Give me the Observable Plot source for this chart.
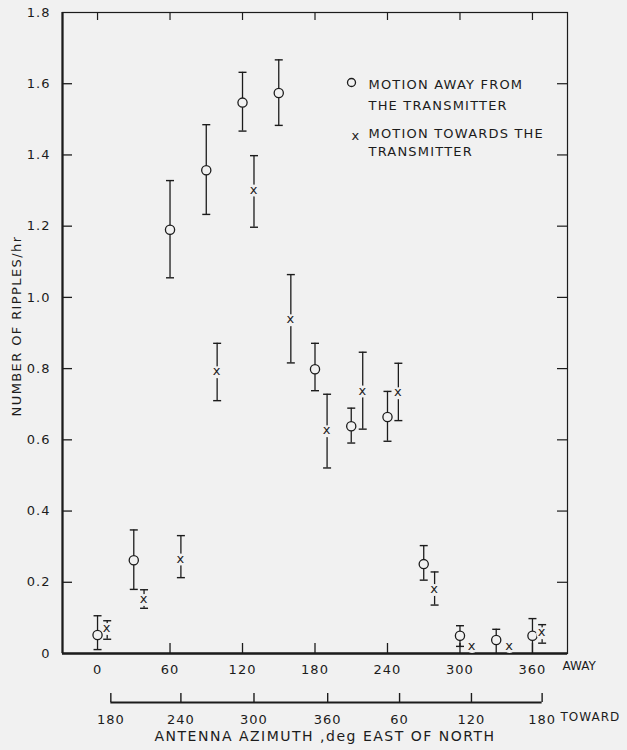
<!DOCTYPE html>
<html>
<head>
<meta charset="utf-8">
<script src="https://cdn.jsdelivr.net/npm/d3@7"></script>
<script src="https://cdn.jsdelivr.net/npm/@observablehq/plot@0.6"></script>
<style>
  html, body { margin: 0; padding: 0; background: #f1f1f1; }
</style>
</head>
<body>
<div id="chart"></div>
<script>
// ---- data ----
const awayAz  = [0, 30, 60, 90, 120, 150, 180, 210, 240, 270, 300, 330, 360];
const awayVal = [0.052, 0.262, 1.19, 1.357, 1.547, 1.574, 0.798, 0.638, 0.664, 0.251, 0.05, 0.038, 0.05];
const awayHi  = [0.106, 0.347, 1.328, 1.485, 1.632, 1.667, 0.871, 0.689, 0.736, 0.303, 0.078, 0.068, 0.098];
const awayLo  = [0.011, 0.18, 1.055, 1.233, 1.467, 1.483, 0.738, 0.591, 0.596, 0.206, 0.02, 0, 0];

const towardAz  = [8, 38.5, 69, 99, 129.5, 160, 190, 219.5, 249, 279, 310, 341, 368];
const towardVal = [0.069, 0.15, 0.264, 0.79, 1.3, 0.936, 0.624, 0.736, 0.731, 0.178, 0.018, 0.018, 0.057];
const towardHi  = [0.092, 0.179, 0.331, 0.871, 1.398, 1.064, 0.728, 0.846, 0.815, 0.229, null, null, 0.081];
const towardLo  = [0.04, 0.127, 0.213, 0.71, 1.197, 0.816, 0.521, 0.63, 0.654, 0.136, null, null, 0.029];

const yTicks = [0, 0.2, 0.4, 0.6, 0.8, 1.0, 1.2, 1.4, 1.6, 1.8];
const awayTicks = [0, 60, 120, 180, 240, 300, 360];
const towardTickPos = [11, 69, 129.5, 190.5, 250, 309.5, 368];
const towardTickLabels = ["180", "240", "300", "360", "60", "120", "180"];

const legendAway = "MOTION AWAY FROM\nTHE TRANSMITTER";
const legendToward = "MOTION TOWARDS THE\nTRANSMITTER";
const yTitle = "NUMBER OF RIPPLES/hr";
const xTitle = "ANTENNA AZIMUTH ,deg EAST OF NORTH";

// ---- layout ----
const W = 627, H = 750, mT = 12, mR = 60, mB = 97, mL = 62;
const fw = W - mL - mR, fh = H - mT - mB;
const bg = "#f1f1f1", ink = "#1c1c1c";
const xDomain = [-29, 389];
const yDomain = [0, 1.8];

const away = awayAz.map((x, i) => ({x, y: awayVal[i], lo: awayLo[i], hi: awayHi[i]}));
const toward = towardAz.map((x, i) => ({x, y: towardVal[i], lo: towardLo[i], hi: towardHi[i]}));
const towardErr = toward.filter(d => d.hi != null);
const caps = [...away, ...towardErr].flatMap(d => [{x: d.x, y: d.lo}, {x: d.x, y: d.hi}]).filter(d => d.y > 0);
const towardLabelOf = new Map(towardTickPos.map((p, i) => [p, towardTickLabels[i]]));
const innerL = yTicks.slice(1, -1);
const innerR = yTicks.slice(1, -1);
const bottomTicks = awayTicks.slice(1);

const capSymbol = { draw(ctx) { ctx.moveTo(-4, 0); ctx.lineTo(4, 0); } };

const chart = Plot.plot({
  width: W, height: H,
  marginTop: mT, marginRight: mR, marginBottom: mB, marginLeft: mL,
  style: {background: bg, color: ink, fontFamily: "DejaVu Sans", fontSize: "13px", letterSpacing: "1px"},
  x: {domain: xDomain},
  y: {domain: yDomain},
  marks: [
    // frame
    Plot.frame({stroke: ink, strokeWidth: 1.2}),
    Plot.ruleX([xDomain[0]], {stroke: ink, strokeWidth: 2.2}),
    Plot.ruleY([0], {stroke: ink, strokeWidth: 2.6}),
    // tick labels
    Plot.axisY(yTicks, {anchor: "left", tickSize: 0, tickPadding: 12, label: null,
      tickFormat: d => d === 0 ? "0" : d.toFixed(1), fontSize: 13}),
    Plot.axisX(awayTicks, {anchor: "bottom", tickSize: 0, tickPadding: 11, label: null, fontSize: 13}),
    Plot.text(["AWAY"], {frameAnchor: "bottom-right", dx: -5, dy: 16, textAnchor: "start", fontSize: 12, fill: ink}),
    // second (toward) axis
    Plot.ruleY([0], {x1: towardTickPos[0], x2: towardTickPos[towardTickPos.length - 1], dy: 49, stroke: ink, strokeWidth: 1.8}),
    Plot.ruleX(towardTickPos, {x: d => d, insetTop: fh - 9, dy: 49, stroke: ink, strokeWidth: 1.4}),
    Plot.axisX(towardTickPos, {anchor: "bottom", tickSize: 0, tickPadding: 12, dy: 49, label: null,
      tickFormat: d => towardLabelOf.get(d), fontSize: 13}),
    Plot.text(["TOWARD"], {frameAnchor: "bottom-right", dx: -7, dy: 67, textAnchor: "start", fontSize: 12, fill: ink}),
    Plot.text([xTitle], {frameAnchor: "bottom", dx: 10, dy: 87, fontSize: 14, fill: ink}),
    Plot.text([yTitle], {frameAnchor: "left", dx: -46, dy: -7, rotate: -90, textAnchor: "middle", fontSize: 13, fill: ink}),
    // error bars
    Plot.ruleX(away, {x: "x", y1: "lo", y2: "hi", stroke: ink, strokeWidth: 1.3}),
    Plot.ruleX(towardErr, {x: "x", y1: "lo", y2: "hi", stroke: ink, strokeWidth: 1.3}),
    Plot.dot(caps, {x: "x", y: "y", symbol: capSymbol, stroke: ink, fill: "none", strokeWidth: 1.4}),
    // markers
    Plot.dot(away, {x: "x", y: "y", r: 4.6, stroke: ink, fill: bg, strokeWidth: 1.3}),
    Plot.dot(toward, {x: "x", y: "y", r: 6, fill: bg, stroke: null}),
    Plot.text(toward, {x: "x", y: "y", text: () => "x", dy: -1, fontSize: 13, fill: ink}),
    // legend
    Plot.dot([0], {frameAnchor: "top-left", dx: 289, dy: 70, r: 4, stroke: ink, fill: bg, strokeWidth: 1.3}),
    Plot.text([legendAway], {frameAnchor: "top-left", dx: 306, dy: 80.5, textAnchor: "start", lineAnchor: "middle",
      lineHeight: 1.6, fontSize: 13, fill: ink}),
    Plot.text(["x"], {frameAnchor: "top-left", dx: 289, dy: 118, fontSize: 13, fill: ink}),
    Plot.text([legendToward], {frameAnchor: "top-left", dx: 306, dy: 128.5, textAnchor: "start", lineAnchor: "middle",
      lineHeight: 1.45, fontSize: 13, fill: ink}),
    // inward ticks on all four sides (rules cut down to tick length with insets)
    Plot.ruleY(innerL, {y: d => d, insetLeft: 0, insetRight: fw - 10, stroke: ink, strokeWidth: 1.3}),
    Plot.ruleY(innerR, {y: d => d, insetLeft: fw - 10, stroke: ink, strokeWidth: 1.2}),
    Plot.ruleX(awayTicks, {x: d => d, insetBottom: fh - 8, stroke: ink, strokeWidth: 1.2}),
    Plot.ruleX(bottomTicks, {x: d => d, insetTop: fh - 10, insetBottom: 0, stroke: ink, strokeWidth: 1.3})
  ]
});
const sel = d3.select(chart).selectAll("text");
sel.filter(function() { return this.textContent === xTitle; }).style("letter-spacing", "1.5px");
sel.filter(function() { return this.textContent === yTitle; }).style("letter-spacing", "1.4px");
sel.filter(function() { return this.textContent === "AWAY"; }).style("letter-spacing", "0px");
sel.filter(function() { return this.textContent === legendAway.replace("\n", "") || this.textContent === legendToward.replace("\n", ""); })
  .style("letter-spacing", "1.2px");
document.getElementById("chart").append(chart);
</script>
</body>
</html>
